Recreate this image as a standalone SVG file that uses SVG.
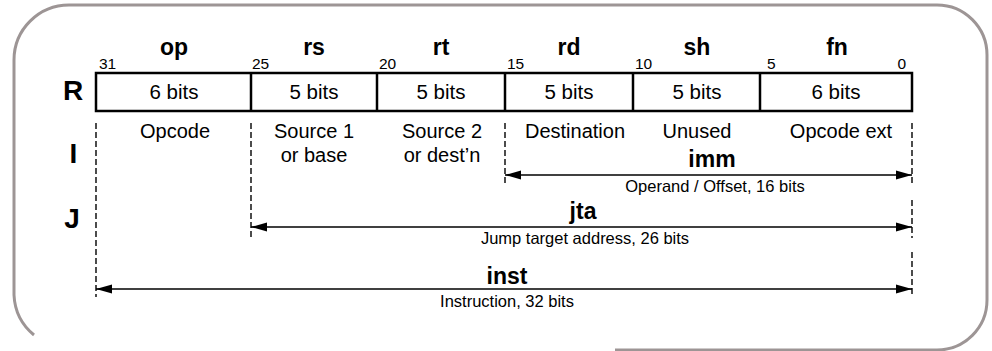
<svg xmlns="http://www.w3.org/2000/svg" width="992" height="351" viewBox="0 0 992 351">
  <defs>
    <style>
      text { font-family: "Liberation Sans", Arial, sans-serif; fill: #000; }
      .fld { font-size: 23px; font-weight: bold; text-anchor: middle; }
      .fmt { font-size: 28px; font-weight: bold; text-anchor: middle; }
      .bitn { font-size: 15.5px; }
      .cell { font-size: 20.5px; text-anchor: middle; }
      .desc { font-size: 20px; text-anchor: middle; }
      .sub { font-size: 16.5px; text-anchor: middle; }
      .box { fill: #fff; stroke: #000; stroke-width: 2.5; }
      .div { stroke: #000; stroke-width: 2.5; }
      .dash { stroke: #000; stroke-width: 1.4; stroke-dasharray: 6 3; fill: none; }
      .span { stroke: #000; stroke-width: 1.5; fill: none; marker-start: url(#head); marker-end: url(#head); }
      .frame { fill: none; stroke: #9d9595; stroke-width: 3; }
    </style>
    <marker id="head" viewBox="0 0 16 10" refX="16" refY="5" markerWidth="16" markerHeight="10" markerUnits="userSpaceOnUse" orient="auto-start-reverse">
      <path d="M0,0.5 L16,5 L0,9.5 Z" fill="#000"/>
    </marker>
  </defs>

  <!-- rounded frame, open along the lower left -->
  <path class="frame" d="M34,335 A55,55 0 0 1 14,295 L14,60 A55,55 0 0 1 69,5 L937,5 A50,50 0 0 1 987,55 L987,300 A50,50 0 0 1 937,350 L615,350"/>

  <!-- format letters -->
  <g id="format-labels">
    <text class="fmt" x="73" y="100">R</text>
    <text class="fmt" x="73.5" y="163">I</text>
    <text class="fmt" x="72" y="228">J</text>
  </g>

  <!-- R-type field table -->
  <g id="field-table">
    <rect class="box" x="96" y="73" width="816" height="38"/>
    <line class="div" x1="251" y1="73" x2="251" y2="111"/>
    <line class="div" x1="377" y1="73" x2="377" y2="111"/>
    <line class="div" x1="505" y1="73" x2="505" y2="111"/>
    <line class="div" x1="633" y1="73" x2="633" y2="111"/>
    <line class="div" x1="760" y1="73" x2="760" y2="111"/>
  </g>

  <g id="field-op">
    <text class="fld" x="174" y="55">op</text>
    <text class="bitn" x="99" y="69">31</text>
    <text class="cell" x="174" y="99">6 bits</text>
    <text class="desc" x="175" y="138">Opcode</text>
  </g>
  <g id="field-rs">
    <text class="fld" x="314" y="55">rs</text>
    <text class="bitn" x="252" y="69">25</text>
    <text class="cell" x="314" y="99">5 bits</text>
    <text class="desc" x="314" y="138">Source 1</text>
    <text class="desc" x="314" y="162">or base</text>
  </g>
  <g id="field-rt">
    <text class="fld" x="441" y="55">rt</text>
    <text class="bitn" x="379" y="69">20</text>
    <text class="cell" x="441" y="99">5 bits</text>
    <text class="desc" x="442" y="138">Source 2</text>
    <text class="desc" x="442" y="162">or dest’n</text>
  </g>
  <g id="field-rd">
    <text class="fld" x="569" y="55">rd</text>
    <text class="bitn" x="507" y="69">15</text>
    <text class="cell" x="569" y="99">5 bits</text>
    <text class="desc" x="575" y="138">Destination</text>
  </g>
  <g id="field-sh">
    <text class="fld" x="697" y="55">sh</text>
    <text class="bitn" x="635" y="69">10</text>
    <text class="cell" x="697" y="99">5 bits</text>
    <text class="desc" x="697" y="138">Unused</text>
  </g>
  <g id="field-fn">
    <text class="fld" x="837" y="55">fn</text>
    <text class="bitn" x="767" y="69">5</text>
    <text class="bitn" x="906" y="69" text-anchor="end">0</text>
    <text class="cell" x="836" y="99">6 bits</text>
    <text class="desc" x="841" y="138">Opcode ext</text>
  </g>

  <!-- span extents and arrows -->
  <g id="connectors">
    <line class="dash" x1="96" y1="123" x2="96" y2="297"/>
    <line class="dash" x1="251" y1="123" x2="251" y2="238"/>
    <line class="dash" x1="505" y1="123" x2="505" y2="185"/>
    <line class="dash" x1="912" y1="123" x2="912" y2="185"/>
    <line class="dash" x1="912" y1="200" x2="912" y2="238"/>
    <line class="dash" x1="912" y1="252" x2="912" y2="297"/>
    <line class="span" x1="505" y1="175" x2="912" y2="175"/>
    <line class="span" x1="251" y1="227" x2="912" y2="227"/>
    <line class="span" x1="96" y1="289" x2="912" y2="289"/>
  </g>

  <g id="span-imm">
    <text class="fld" x="712" y="167">imm</text>
    <text class="sub" x="715" y="192">Operand / Offset, 16 bits</text>
  </g>
  <g id="span-jta">
    <text class="fld" x="583" y="219">jta</text>
    <text class="sub" x="585" y="244">Jump target address, 26 bits</text>
  </g>
  <g id="span-inst">
    <text class="fld" x="507" y="284">inst</text>
    <text class="sub" x="507" y="307">Instruction, 32 bits</text>
  </g>
</svg>
